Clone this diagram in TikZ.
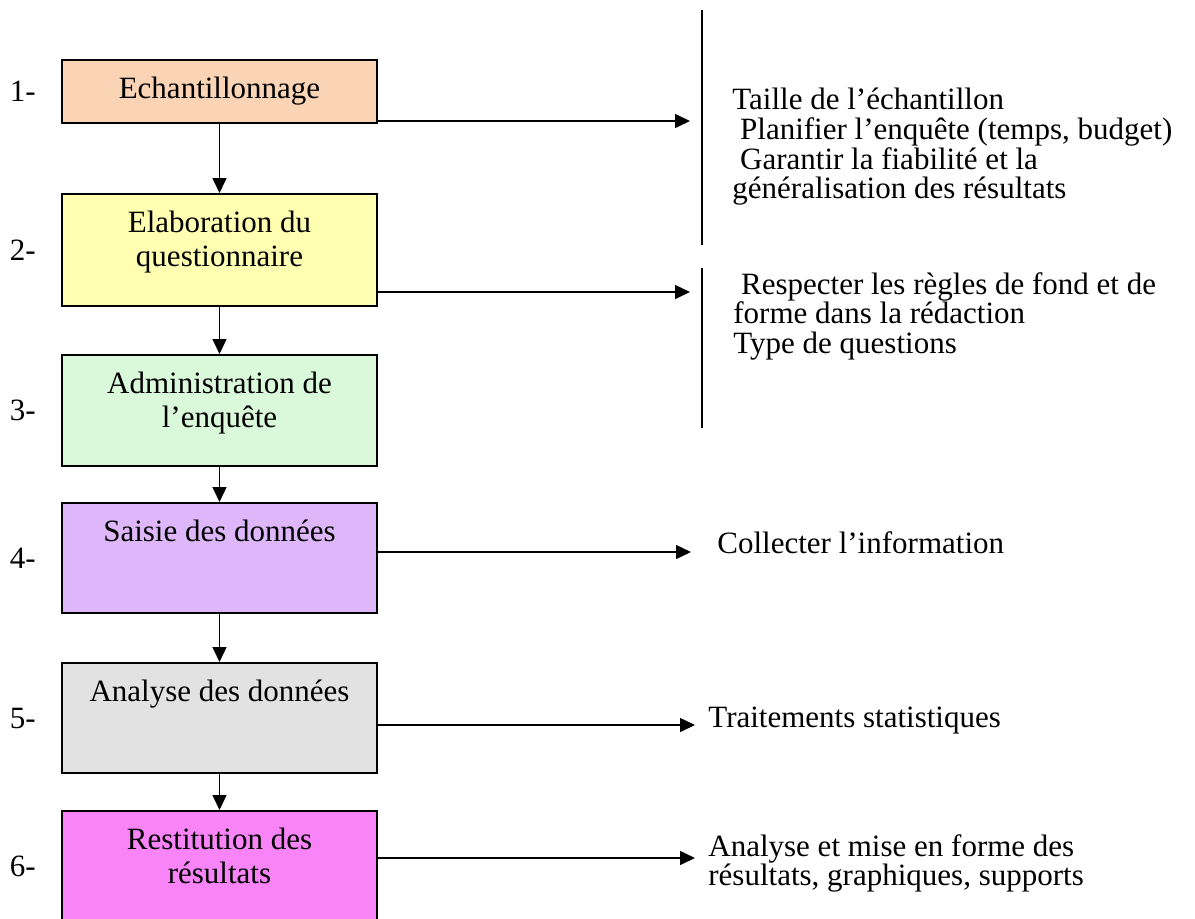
\documentclass[tikz,border=0pt]{standalone}
\usepackage{fontspec}
\setmainfont{Liberation Serif}
\usetikzlibrary{arrows.meta,positioning}

\definecolor{echcol}{RGB}{250,212,180}
\definecolor{elacol}{RGB}{255,255,178}
\definecolor{admcol}{RGB}{218,248,218}
\definecolor{saicol}{RGB}{222,182,250}
\definecolor{anacol}{RGB}{226,226,226}
\definecolor{rescol}{RGB}{248,132,248}
\newcommand{\lsp}{\hspace*{0.25em}}
\newcommand{\txtfont}{\fontsize{15.5pt}{14.8pt}\selectfont}

\tikzset{
  stepbox/.style={draw=black, line width=1pt, minimum width=157.5pt, inner sep=0pt},
  steptxt/.style={font=\fontsize{15.5pt}{17pt}\selectfont, align=center, inner sep=0pt},
  steplabel/.style={font=\txtfont, inner sep=0pt},
  note/.style={font=\txtfont, align=left, inner sep=0pt, anchor=north west},
  flow/.style={line width=.75pt, -{Triangle[length=7.5pt,width=7pt]}},
}

\begin{document}
\begin{tikzpicture}[x=.5pt, y=-.5pt]
  \clip (0,0) rectangle (1195,918);

  \node [stepbox, fill=echcol, minimum height=31.5pt] (echant) at (219.5,91.5) {};
  \node [stepbox, fill=elacol, minimum height=56pt]   (elabo)  at (219.5,250) {};
  \node [stepbox, fill=admcol, minimum height=55.5pt] (admin)  at (219.5,410.5) {};
  \node [stepbox, fill=saicol, minimum height=55pt]   (saisie) at (219.5,558) {};
  \node [stepbox, fill=anacol, minimum height=55pt]   (analyse) at (219.5,718) {};
  \node [stepbox, fill=rescol, minimum height=55pt]   (restit) at (219.5,866) {};

  \node [steptxt, below=9pt of echant.north]  (techant)  {Echantillonnage};
  \node [steptxt, below=9pt of elabo.north]   (telabo)   {Elaboration du\\questionnaire};
  \node [steptxt, below=9pt of admin.north]   (tadmin)   {Administration de\\l’enquête};
  \node [steptxt, below=9pt of saisie.north]  (tsaisie)  {Saisie des données};
  \node [steptxt, below=9pt of analyse.north] (tanalyse) {Analyse des données};
  \node [steptxt, below=9pt of restit.north]  (trestit)  {Restitution des\\résultats};

  \node [steplabel, left=12.5pt of echant]  (n1) {1-};
  \node [steplabel, left=12.5pt of elabo]   (n2) {2-};
  \node [steplabel, left=12.5pt of admin]   (n3) {3-};
  \node [steplabel, left=12.5pt of saisie]  (n4) {4-};
  \node [steplabel, left=12.5pt of analyse] (n5) {5-};
  \node [steplabel, left=12.5pt of restit]  (n6) {6-};

  \draw [flow] (echant) -- (elabo);
  \draw [flow] (elabo) -- (admin);
  \draw [flow] (admin) -- (saisie);
  \draw [flow] (saisie) -- (analyse);
  \draw [flow] (analyse) -- (restit);

  \coordinate (r1) at (690,121);
  \coordinate (r2) at (690,292);
  \coordinate (r4) at (691,552);
  \coordinate (r5) at (695,725);
  \coordinate (r6) at (695,858);
  \draw [flow] (echant.east |- r1) -- (r1);
  \draw [flow] (elabo.east |- r2) -- (r2);
  \draw [flow] (saisie.east |- r4) -- (r4);
  \draw [flow] (analyse.east |- r5) -- (r5);
  \draw [flow] (restit.east |- r6) -- (r6);

  \draw [line width=.6pt] (702,10) -- (702,245);
  \draw [line width=.6pt] (702,268) -- (702,428);

  \node [note] (nech) at (732,88) {Taille de l’échantillon\\\lsp Planifier l’enquête (temps, budget)\\\lsp Garantir la fiabilité et la\\généralisation des résultats};
  \node [note] (nela) at (733,272) {\lsp Respecter les règles de fond et de\\forme dans la rédaction\\Type de questions};
  \node [note] (nsai) at (717,531) {Collecter l’information};
  \node [note] (nana) at (708,707) {Traitements statistiques};
  \node [note] (nres) at (708,834) {Analyse et mise en forme des\\résultats, graphiques, supports};
\end{tikzpicture}
\end{document}
